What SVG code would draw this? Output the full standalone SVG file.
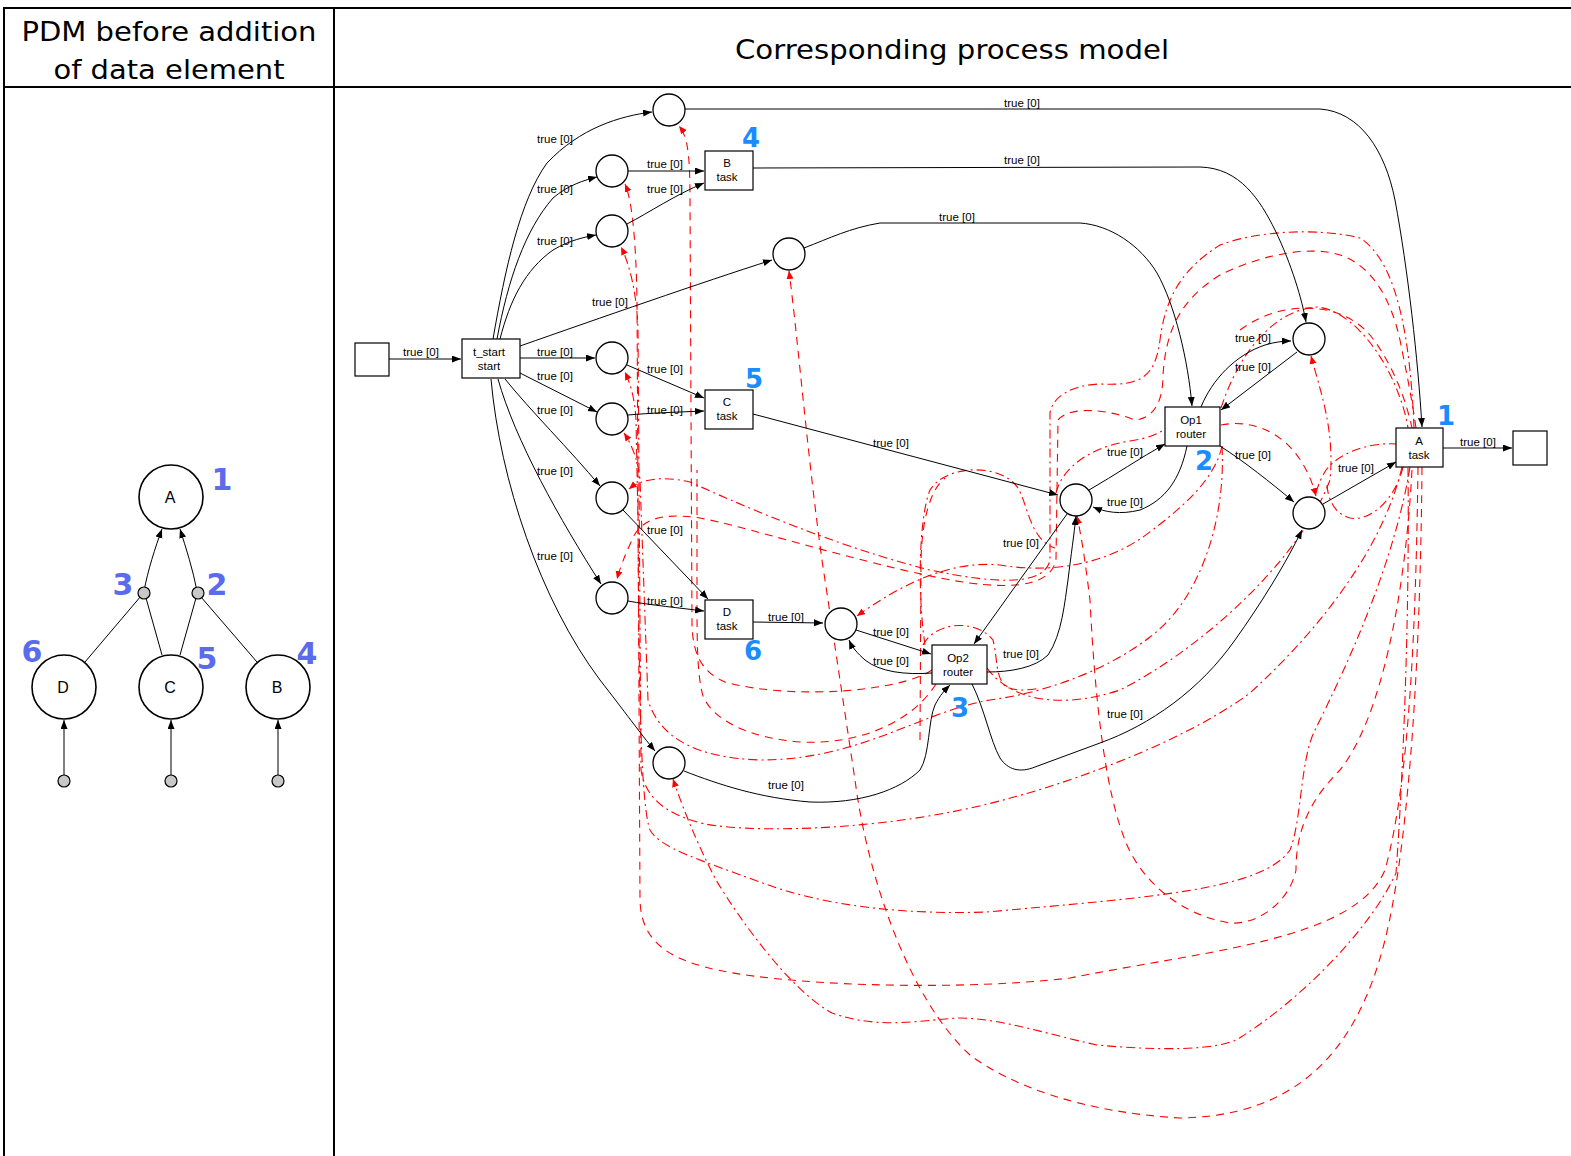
<svg xmlns="http://www.w3.org/2000/svg" width="1571" height="1156" viewBox="0 0 1571 1156">
<defs>
<marker id="ah" markerUnits="userSpaceOnUse" markerWidth="10" markerHeight="8" refX="9" refY="3.5" orient="auto"><path d="M0,0 L9,3.5 L0,7 z" fill="#000"/></marker>
<marker id="rah" markerUnits="userSpaceOnUse" markerWidth="10" markerHeight="8" refX="8" refY="3.5" orient="auto"><path d="M0,0 L8,3.5 L0,7 z" fill="#f00"/></marker>
<style>
.pl{fill:#fff;stroke:#000;stroke-width:1.3}
.bx{fill:#fff;stroke:#000;stroke-width:1.2}
.e{fill:none;stroke:#000;stroke-width:1;marker-end:url(#ah)}
.ln{fill:none;stroke:#000;stroke-width:1}
.rd{fill:none;stroke:#f00;stroke-width:1.1;stroke-dasharray:8 6}
.rdd{fill:none;stroke:#f00;stroke-width:1.1;stroke-dasharray:9 4 2 4}
.ra{marker-end:url(#rah)}
.lb{font-family:"Liberation Sans",Arial,sans-serif;font-size:11.5px;text-anchor:middle;fill:#000}
.num{font-family:"DejaVu Sans",Verdana,sans-serif;font-weight:bold;font-size:26px;fill:#1a8cff;text-anchor:middle}
.pn{font-family:"DejaVu Sans",Verdana,sans-serif;font-weight:bold;font-size:30px;fill:#5a6bee;text-anchor:middle}
.hd{font-family:"DejaVu Sans",Verdana,sans-serif;font-size:27px;text-anchor:middle;fill:#000}
.pc{fill:#fff;stroke:#000;stroke-width:1.6}
.dot{fill:#c8c8c8;stroke:#000;stroke-width:1.2}
.pt{font-family:"Liberation Sans",Arial,sans-serif;font-size:16px;text-anchor:middle;fill:#000}
.tb{stroke:#000;stroke-width:2;fill:none}
</style>
</defs>
<rect width="1571" height="1156" fill="#fff"/>

<g id="table">
<line class="tb" x1="4" y1="8" x2="1571" y2="8"/>
<line class="tb" x1="4" y1="87" x2="1571" y2="87"/>
<line class="tb" x1="4" y1="7" x2="4" y2="1156"/>
<line class="tb" x1="334" y1="7" x2="334" y2="1156"/>
<text class="hd" x="169" y="41" textLength="295" lengthAdjust="spacingAndGlyphs">PDM before addition</text>
<text class="hd" x="169" y="79" textLength="231" lengthAdjust="spacingAndGlyphs">of data element</text>
<text class="hd" x="952" y="59" textLength="434" lengthAdjust="spacingAndGlyphs">Corresponding process model</text>
</g>

<g id="pdm">
<g id="pdm-edges">
<path class="e" d="M144,591 C148,570 155,548 162,529"/>
<path class="e" d="M197,591 C193,570 186,548 180,529"/>
<line class="ln" x1="85" y1="662" x2="141" y2="596"/>
<line class="ln" x1="162" y1="655" x2="146" y2="598"/>
<line class="ln" x1="180" y1="655" x2="196" y2="598"/>
<line class="ln" x1="257" y1="662" x2="201" y2="597"/>
<path class="e" d="M64,775 L64,720"/>
<path class="e" d="M171,775 L171,720"/>
<path class="e" d="M278,775 L278,720"/>
</g>
<g id="pdm-A"><circle class="pc" cx="171" cy="497" r="32"/><text class="pt" x="170" y="503">A</text></g>
<g id="pdm-D"><circle class="pc" cx="64" cy="687" r="32"/><text class="pt" x="63" y="693">D</text></g>
<g id="pdm-C"><circle class="pc" cx="171" cy="687" r="32"/><text class="pt" x="170" y="693">C</text></g>
<g id="pdm-B"><circle class="pc" cx="278" cy="687" r="32"/><text class="pt" x="277" y="693">B</text></g>
<g id="pdm-op3"><circle class="dot" cx="144" cy="593" r="6"/></g>
<g id="pdm-op2"><circle class="dot" cx="198" cy="593" r="6"/></g>
<g id="pdm-inD"><circle class="dot" cx="64" cy="781" r="6"/></g>
<g id="pdm-inC"><circle class="dot" cx="171" cy="781" r="6"/></g>
<g id="pdm-inB"><circle class="dot" cx="278" cy="781" r="6"/></g>
<text class="pn" x="222" y="490">1</text>
<text class="pn" x="123" y="595">3</text>
<text class="pn" x="217" y="595">2</text>
<text class="pn" x="32" y="662">6</text>
<text class="pn" x="207" y="669">5</text>
<text class="pn" x="307" y="664">4</text>
</g>

<g id="connectors">
<g id="red">
<path class="rd ra" d="M932,670 C900,692 790,700 725,682 C702,672 693,655 692,625 L690,200 C690,150 687,136 679,126"/>
<path class="rd" d="M936,684 C912,722 860,745 800,742 C752,738 714,722 703,696 C697,675 697,640 697,600 L697,470"/>
<path class="rd ra" d="M1418,467 C1416,620 1410,780 1385,870 C1355,940 1210,950 1070,978 C950,992 770,985 705,967 C660,955 641,935 640,900 L637,300 C636,240 632,200 625,184"/>
<path class="rdd ra" d="M1402,467 C1385,540 1330,620 1250,693 C1180,745 1060,785 1014,797 C900,830 760,834 705,824 C662,814 645,795 641,770 L638,330 C637,295 630,265 621,247"/>
<path class="rd ra" d="M1422,467 C1420,700 1405,860 1385,940 C1355,1060 1290,1116 1180,1118 C1080,1112 1010,1085 970,1055 C910,1000 868,880 855,780 L822,560 C808,460 798,340 789,271"/>
<path class="rdd ra" d="M1410,467 C1395,560 1350,660 1315,730 C1300,760 1302,820 1290,850 C1262,890 1152,897 987,912 C900,915 820,905 760,882 C700,860 660,848 650,830 C641,805 639,700 638,520 L636,420 C635,400 631,385 625,372"/>
<path class="rdd ra" d="M1222,446 C1226,520 1200,600 1150,637 C1110,668 1050,692 990,700 C920,712 860,760 760,760 C700,758 660,740 648,700 L640,480 C638,460 632,445 624,433"/>
<path class="rdd ra" d="M1414,428 C1410,330 1395,260 1360,238 C1320,228 1260,230 1220,245 C1180,270 1165,300 1160,340 C1155,378 1140,386 1100,384 C1070,385 1052,398 1050,413 L1050,560 C1045,585 1000,585 930,570 C830,545 730,500 690,482 C660,475 640,480 629,489"/>
<path class="rd ra" d="M1416,428 C1412,400 1408,380 1400,340 C1390,295 1370,265 1340,255 C1310,245 1260,255 1220,275 C1180,300 1166,330 1163,375 C1163,400 1155,418 1135,420 C1110,410 1070,405 1058,420 L1056,560 C1050,590 1000,590 940,578 C850,560 740,525 700,518 C660,512 640,520 632,540 C625,555 620,568 617,579"/>
<path class="rdd ra" d="M1408,468 C1410,650 1400,820 1396,873 C1370,930 1300,1000 1241,1037 C1220,1052 1150,1050 1097,1045 C1050,1035 1000,1018 959,1018 C920,1020 880,1030 832,1013 C790,990 740,920 716,880 C695,840 680,800 673,779"/>
<path class="rdd ra" d="M1222,446 C1215,480 1180,510 1143,537 C1110,560 1060,575 1000,565 C950,560 900,585 857,616"/>
<path class="rd ra" d="M1412,470 C1405,600 1380,720 1340,770 C1310,800 1296,830 1296,870 C1290,900 1260,925 1230,923 C1180,915 1140,880 1125,840 C1105,790 1095,700 1090,600 C1085,560 1082,540 1077,516"/>
<path class="rdd ra" d="M987,668 C1010,700 1060,710 1120,690 C1200,650 1300,560 1330,480 C1335,430 1320,390 1311,356"/>
<path class="rd ra" d="M1221,425 C1255,418 1300,435 1316,496"/>
<path class="rdd" d="M1398,444 C1370,442 1340,452 1326,470 C1320,480 1317,488 1316,494"/>
<path class="rdd" d="M1221,408 C1240,350 1275,310 1317,307 C1350,310 1380,350 1395,385 C1402,402 1406,415 1408,428"/>
<path class="rd" d="M1240,330 C1280,300 1340,300 1370,335 C1390,360 1405,395 1412,428"/>
<path class="rdd" d="M1056,493 C1062,468 1090,447 1130,441 C1150,438 1160,433 1166,428"/>
<path class="rdd" d="M925,645 C918,600 918,520 930,490 C945,465 1000,462 1018,488 C1028,505 1030,540 1055,548"/>
<path class="rdd" d="M923,645 C935,622 975,618 993,640 C998,660 995,675 1005,686 C1015,692 1030,690 1040,688"/>
<path class="rd" d="M920,740 L921,560 C922,520 930,490 945,478"/>
<path class="rdd" d="M1403,467 C1395,500 1370,522 1350,518 C1335,514 1328,500 1327,485"/>
</g>
<g id="black">
<path class="e" d="M389,359 L461,359"/>
<path class="e" d="M493,339 C505,270 520,200 547,163 C580,128 620,116 652,112"/>
<path class="e" d="M497,339 C508,280 525,230 553,198 C568,185 585,180 597,177"/>
<path class="e" d="M500,339 C510,300 525,270 553,250 C570,240 585,237 596,235"/>
<path class="e" d="M520,346 C600,318 700,283 772,260"/>
<path class="e" d="M520,358 L595,358"/>
<path class="e" d="M520,373 L597,412"/>
<path class="e" d="M505,379 C530,410 570,450 600,486"/>
<path class="e" d="M498,379 C515,440 560,520 601,584"/>
<path class="e" d="M491,379 C500,480 540,600 600,680 C625,712 640,733 655,751"/>
<path class="e" d="M628,171 L704,171"/>
<path class="e" d="M627,224 C650,212 675,195 704,183"/>
<path class="e" d="M627,365 L704,398"/>
<path class="e" d="M628,415 C650,413 680,412 704,411"/>
<path class="e" d="M623,510 L708,599"/>
<path class="e" d="M628,601 C650,605 680,608 704,611"/>
<path class="e" d="M753,168 L1200,167 C1240,168 1260,200 1275,230 C1292,265 1302,300 1306,322"/>
<path class="e" d="M685,109 L1320,109 C1360,112 1385,150 1395,200 C1408,270 1418,360 1422,427"/>
<path class="e" d="M804,248 C830,238 850,228 880,223 L1080,223 C1110,225 1140,245 1157,273 C1175,305 1188,360 1192,406"/>
<path class="e" d="M753,414 L1058,495"/>
<path class="e" d="M1089,490 C1115,475 1140,458 1165,444"/>
<path class="e" d="M1187,446 C1180,480 1165,500 1140,510 C1120,515 1105,512 1093,507"/>
<path class="e" d="M1201,407 C1212,380 1235,355 1265,345 C1275,342 1283,341 1291,341"/>
<path class="e" d="M1297,352 L1221,410"/>
<path class="e" d="M1220,446 C1245,462 1270,482 1294,502"/>
<path class="e" d="M1323,504 L1396,462"/>
<path class="e" d="M1443,448 L1512,448"/>
<path class="e" d="M753,622 L823,623"/>
<path class="e" d="M856,630 L931,654"/>
<path class="e" d="M932,673 C905,675 880,672 865,660 C857,653 852,647 849,640"/>
<path class="e" d="M987,672 C1010,672 1035,668 1048,655 C1062,635 1065,600 1068,580 C1071,555 1074,535 1076,516"/>
<path class="e" d="M1067,514 L974,644"/>
<path class="e" d="M684,771 C720,785 760,798 810,802 C860,804 900,790 920,770 C930,755 928,720 935,705 C940,695 945,690 950,685"/>
<path class="e" d="M972,684 C985,710 990,740 1000,758 C1008,770 1020,773 1035,767 L1100,743 C1150,725 1200,690 1235,640 C1260,605 1285,565 1302,530"/>
</g>
<g id="labels">
<text class="lb" x="421" y="356">true [0]</text>
<text class="lb" x="555" y="143">true [0]</text>
<text class="lb" x="555" y="193">true [0]</text>
<text class="lb" x="555" y="245">true [0]</text>
<text class="lb" x="610" y="306">true [0]</text>
<text class="lb" x="555" y="356">true [0]</text>
<text class="lb" x="555" y="380">true [0]</text>
<text class="lb" x="555" y="414">true [0]</text>
<text class="lb" x="555" y="475">true [0]</text>
<text class="lb" x="555" y="560">true [0]</text>
<text class="lb" x="665" y="168">true [0]</text>
<text class="lb" x="665" y="193">true [0]</text>
<text class="lb" x="665" y="373">true [0]</text>
<text class="lb" x="665" y="414">true [0]</text>
<text class="lb" x="665" y="534">true [0]</text>
<text class="lb" x="665" y="605">true [0]</text>
<text class="lb" x="786" y="621">true [0]</text>
<text class="lb" x="891" y="636">true [0]</text>
<text class="lb" x="891" y="665">true [0]</text>
<text class="lb" x="1021" y="658">true [0]</text>
<text class="lb" x="1021" y="547">true [0]</text>
<text class="lb" x="891" y="447">true [0]</text>
<text class="lb" x="786" y="789">true [0]</text>
<text class="lb" x="1125" y="718">true [0]</text>
<text class="lb" x="1022" y="107">true [0]</text>
<text class="lb" x="1022" y="164">true [0]</text>
<text class="lb" x="957" y="221">true [0]</text>
<text class="lb" x="1125" y="456">true [0]</text>
<text class="lb" x="1125" y="506">true [0]</text>
<text class="lb" x="1253" y="342">true [0]</text>
<text class="lb" x="1253" y="371">true [0]</text>
<text class="lb" x="1253" y="459">true [0]</text>
<text class="lb" x="1356" y="472">true [0]</text>
<text class="lb" x="1478" y="446">true [0]</text>
</g>
</g>

<g id="source"><rect class="bx" x="355" y="343" width="34" height="33"/></g>
<g id="t_start"><rect class="bx" x="462" y="339" width="58" height="39"/><text class="lb" x="489" y="356">t_start</text><text class="lb" x="489" y="370">start</text></g>
<g id="B_task"><rect class="bx" x="705" y="151" width="48" height="39"/><text class="lb" x="727" y="167">B</text><text class="lb" x="727" y="181">task</text></g>
<g id="C_task"><rect class="bx" x="705" y="390" width="48" height="39"/><text class="lb" x="727" y="406">C</text><text class="lb" x="727" y="420">task</text></g>
<g id="D_task"><rect class="bx" x="705" y="600" width="48" height="39"/><text class="lb" x="727" y="616">D</text><text class="lb" x="727" y="630">task</text></g>
<g id="Op1_router"><rect class="bx" x="1165" y="407" width="55" height="39"/><text class="lb" x="1191" y="424">Op1</text><text class="lb" x="1191" y="438">router</text></g>
<g id="Op2_router"><rect class="bx" x="932" y="645" width="55" height="39"/><text class="lb" x="958" y="662">Op2</text><text class="lb" x="958" y="676">router</text></g>
<g id="A_task"><rect class="bx" x="1396" y="428" width="47" height="39"/><text class="lb" x="1419" y="445">A</text><text class="lb" x="1419" y="459">task</text></g>
<g id="sink"><rect class="bx" x="1513" y="431" width="34" height="34"/></g>

<g id="p1"><circle class="pl" cx="669" cy="110" r="16"/></g>
<g id="p2"><circle class="pl" cx="612" cy="171" r="16"/></g>
<g id="p3"><circle class="pl" cx="612" cy="231" r="16"/></g>
<g id="p4"><circle class="pl" cx="789" cy="254" r="16"/></g>
<g id="p5"><circle class="pl" cx="612" cy="358" r="16"/></g>
<g id="p6"><circle class="pl" cx="612" cy="419" r="16"/></g>
<g id="p7"><circle class="pl" cx="612" cy="498" r="16"/></g>
<g id="p8"><circle class="pl" cx="612" cy="598" r="16"/></g>
<g id="p9"><circle class="pl" cx="669" cy="763" r="16"/></g>
<g id="p10"><circle class="pl" cx="841" cy="624" r="16"/></g>
<g id="p11"><circle class="pl" cx="1076" cy="500" r="16"/></g>
<g id="p12"><circle class="pl" cx="1309" cy="339" r="16"/></g>
<g id="p13"><circle class="pl" cx="1309" cy="513" r="16"/></g>

<g id="numbers">
<text class="num" x="751" y="147">4</text>
<text class="num" x="754" y="388">5</text>
<text class="num" x="753" y="660">6</text>
<text class="num" x="960" y="717">3</text>
<text class="num" x="1204" y="470">2</text>
<text class="num" x="1446" y="425">1</text>
</g>
</svg>
